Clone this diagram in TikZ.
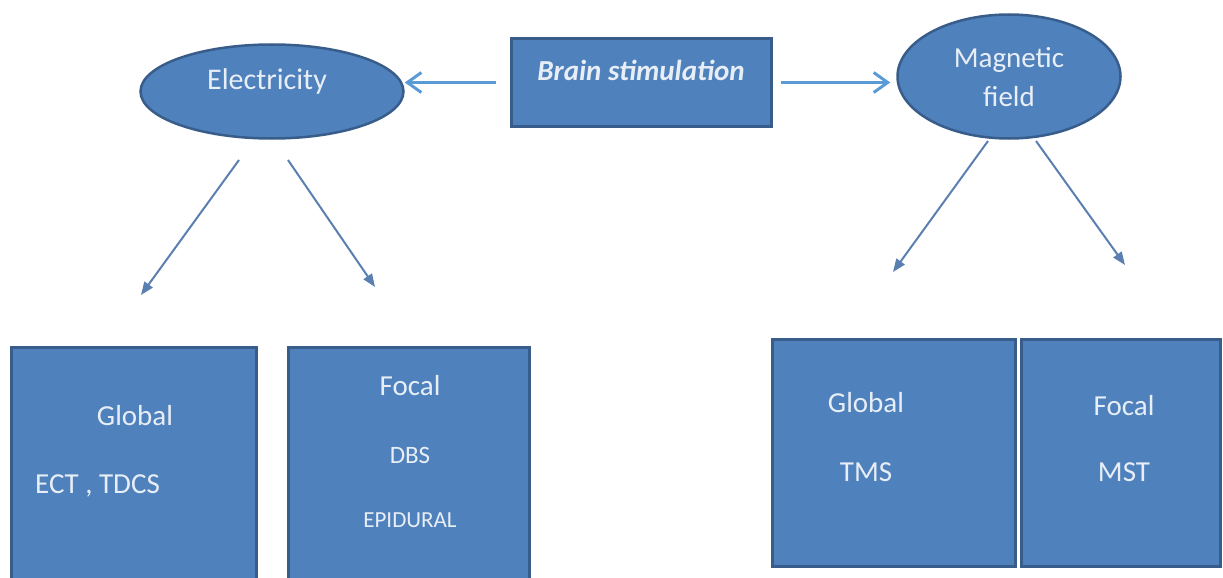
\documentclass[tikz,border=0pt]{standalone}
\usepackage{fontspec}
\setmainfont{Carlito}
\usetikzlibrary{arrows.meta,shapes.geometric}
\definecolor{boxFill}{HTML}{4F81BD}
\definecolor{boxLine}{HTML}{385D8A}
\definecolor{arrowBlue}{HTML}{5B9BD5}
\definecolor{arrowGrey}{HTML}{5A7FB0}
\definecolor{textWhite}{HTML}{E8EEF6}
\begin{document}
\begin{tikzpicture}[x=1pt, y=-1pt, boxStyle/.style={rectangle, draw=boxLine, fill=boxFill, line width=3pt, inner sep=0pt}, ovalStyle/.style={ellipse, draw=boxLine, fill=boxFill, line width=2.5pt, inner sep=0pt}, textStyle/.style={text=textWhite, inner sep=0pt, font=\fontsize{29}{34}\selectfont}, smallStyle/.style={textStyle, font=\fontsize{23}{27}\selectfont}, topArrow/.style={draw=arrowBlue, line width=3pt, -{Straight Barb[length=14pt, width=20pt]}}, downArrow/.style={draw=arrowGrey, line width=2pt, -{Triangle[length=13pt, width=10pt]}}]
                    \useasboundingbox (0,0) rectangle (1223,578);
                    \clip (0,0) rectangle (1223,578);

                    \node[boxStyle, minimum width=260pt, minimum height=88pt](brain) at (641.5, 82.5) {};
                    \node[textStyle, font=\fontsize{29}{34}\selectfont\bfseries\itshape](brain_t) at (641, 70) {Brain stimulation};

                    \node[ovalStyle, minimum width=263pt, minimum height=94pt](elec) at (272, 91.5) {};
                    \node[textStyle, font=\fontsize{30}{35}\selectfont](elec_t) at (267, 82) {Electricity};

                    \node[ovalStyle, minimum width=223pt, minimum height=124pt](magn) at (1009, 76.5) {};
                    \node[textStyle](magn_t0) at (1009, 60) {Magnetic};
                    \node[textStyle](magn_t1) at (1009, 97) {field};

                    \node[boxStyle, minimum width=245pt, minimum height=253pt](elec_glob) at (134, 473.5) {};
                    \node[textStyle](elec_glob_t0) at (135, 416) {Global};
                    \node[textStyle, anchor=west](elec_glob_t1) at (35, 486) {ECT , TDCS};

                    \node[boxStyle, minimum width=241pt, minimum height=253pt](elec_foc) at (409, 473.5) {};
                    \node[textStyle](elec_foc_t0) at (410, 386) {Focal};
                    \node[smallStyle, font=\fontsize{25}{29}\selectfont](elec_foc_t1) at (410, 455) {DBS};
                    \node[smallStyle](elec_foc_t2) at (410, 520) {EPIDURAL};

                    \node[boxStyle, minimum width=243pt, minimum height=227pt](magn_glob) at (894, 453) {};
                    \node[textStyle](magn_glob_t0) at (866, 403) {Global};
                    \node[textStyle](magn_glob_t1) at (866, 472) {TMS};

                    \node[boxStyle, minimum width=199pt, minimum height=227pt](magn_foc) at (1121, 453) {};
                    \node[textStyle](magn_foc_t0) at (1124, 406) {Focal};
                    \node[textStyle](magn_foc_t1) at (1124, 472) {MST};

                    \coordinate (elec_S0) at (239, 160);
                    \coordinate (elec_S1) at (288, 160);
                    \coordinate (elec_glob_E) at (141, 295);
                    \coordinate (elec_foc_E) at (375, 287);
                    \coordinate (magn_S0) at (988, 141);
                    \coordinate (magn_S1) at (1036, 141);
                    \coordinate (magn_glob_E) at (893, 272);
                    \coordinate (magn_foc_E) at (1125, 265);

                    \draw[topArrow, shorten <=14pt] (brain.west) -- (brain.west -| elec.east);
                    \draw[topArrow, shorten <=8pt, shorten >=6pt] (brain.east) -- (brain.east -| magn.west);
                    \draw[downArrow] (elec_S0) -- (elec_glob_E);
                    \draw[downArrow] (elec_S1) -- (elec_foc_E);
                    \draw[downArrow] (magn_S0) -- (magn_glob_E);
                    \draw[downArrow] (magn_S1) -- (magn_foc_E);
                \end{tikzpicture}
\end{document}
